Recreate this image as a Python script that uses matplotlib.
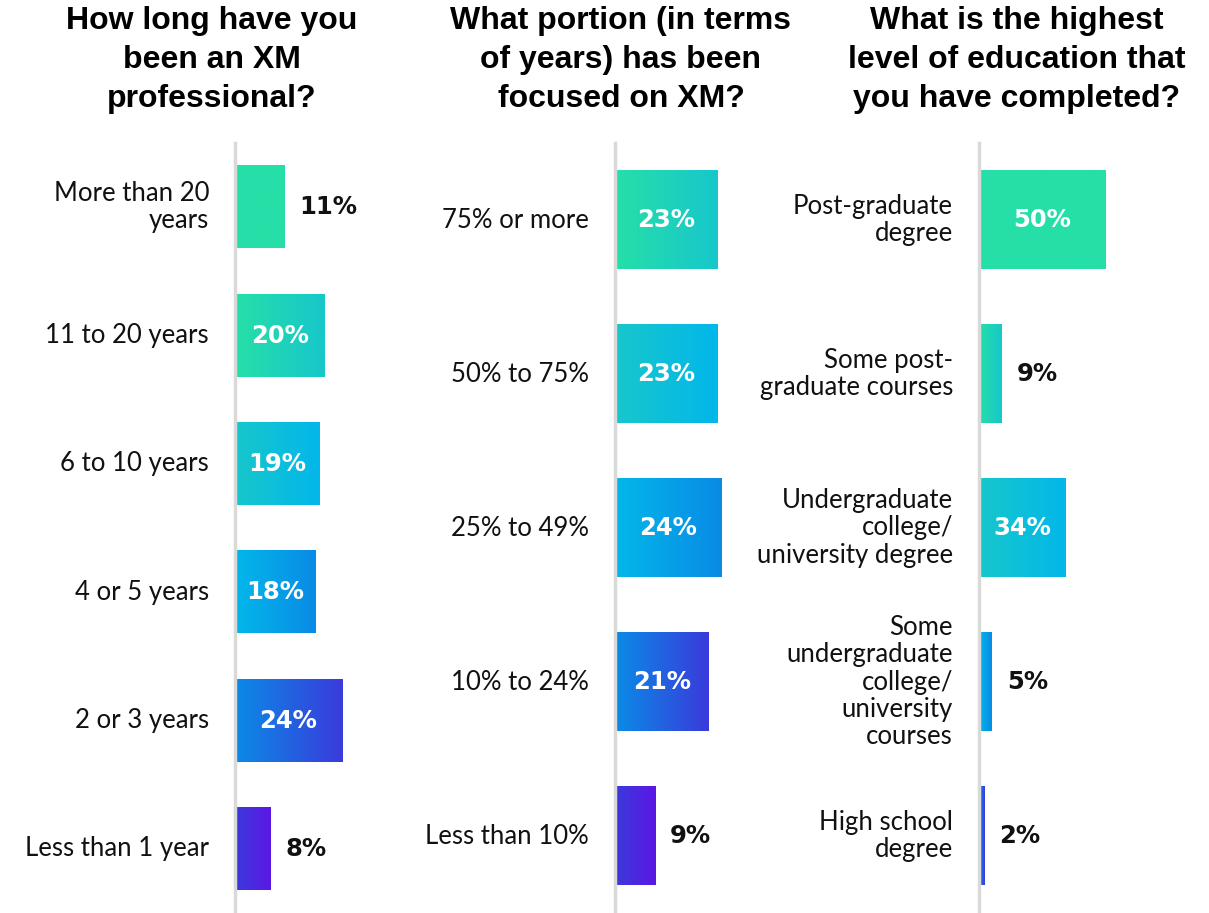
import matplotlib
matplotlib.use("Agg")
import matplotlib.pyplot as plt
import numpy as np
from matplotlib.colors import to_rgb

# data
titles = [
    "How long have you\nbeen an XM\nprofessional?",
    "What portion (in terms\nof years) has been\nfocused on XM?",
    "What is the highest\nlevel of education that\nyou have completed?",
]
tenure_labels = ["More than 20\nyears", "11 to 20 years", "6 to 10 years",
                 "4 or 5 years", "2 or 3 years", "Less than 1 year"]
tenure_values = [11, 20, 19, 18, 24, 8]

focus_labels = ["75% or more", "50% to 75%", "25% to 49%", "10% to 24%", "Less than 10%"]
focus_values = [23, 23, 24, 21, 9]

edu_labels = ["Post-graduate\ndegree", "Some post-\ngraduate courses",
              "Undergraduate\ncollege/\nuniversity degree",
              "Some\nundergraduate\ncollege/\nuniversity\ncourses",
              "High school\ndegree"]
edu_values = [50, 9, 34, 5, 2]

# gradient stops (green -> teal -> cyan -> blue -> indigo -> purple)
stops = ["#26dfa8", "#17c7cb", "#02b7ea", "#0a8be6", "#3a3bdb", "#5c17e5"]

panels = [
    dict(labels=tenure_labels, values=tenure_values,
         grad=[(0, 0), (0, 1), (1, 2), (2, 3), (3, 4), (4, 5)],
         left=235, scale=4.46, title_x=212),
    dict(labels=focus_labels, values=focus_values,
         grad=[(0, 1), (1, 2), (2, 3), (3, 4), (4, 5)],
         left=615, scale=4.45, title_x=621),
    dict(labels=edu_labels, values=edu_values,
         grad=[(0, 0), (0, 1), (1, 2), (2, 3), (3, 4)],
         left=979, scale=2.54, title_x=1017),
]

W, H = 1209, 913
fig = plt.figure(figsize=(W / 100, H / 100), dpi=100)
fig.patch.set_facecolor("white")

label_font = ["Lato", "DejaVu Sans"]
value_font = ["DejaVu Sans"]
title_font = ["Liberation Sans", "DejaVu Sans"]

ax_top = 143
ax_w = 200
for k, p in enumerate(panels):
    n = len(p["values"])
    ax = fig.add_axes([p["left"] / W, 0, ax_w / W, (H - ax_top) / H])
    bh = 0.64
    for i, (lab, v) in enumerate(zip(p["labels"], p["values"])):
        c0 = np.array(to_rgb(stops[p["grad"][i][0]]))
        c1 = np.array(to_rgb(stops[p["grad"][i][1]]))
        t = np.linspace(0, 1, 64)[:, None]
        img = (c0 * (1 - t) + c1 * t)[None, :, :]
        ax.imshow(img, extent=[0, v, i + bh / 2, i - bh / 2], aspect="auto",
                  interpolation="bilinear", zorder=2)
        bar_px = v * p["scale"]
        if bar_px > 60:
            ax.text(v / 2, i, f"{v}%", ha="center", va="center", color="white",
                    fontsize=17.5, fontweight="bold", family=value_font, zorder=3)
        else:
            ax.text(v + 15 / p["scale"], i, f"{v}%", ha="left", va="center",
                    color="#111111", fontsize=17.5, fontweight="bold",
                    family=value_font, zorder=3)
        ax.text(-26 / p["scale"], i, lab, ha="right", va="center",
                multialignment="right", color="#111111", fontsize=18.5,
                family=label_font, linespacing=1.12)
    ax.set_xlim(0, ax_w / p["scale"])
    ax.set_ylim(n - 0.5, -0.5)
    for s in ["top", "right", "bottom"]:
        ax.spines[s].set_visible(False)
    ax.spines["left"].set_color("#d9d9d9")
    ax.spines["left"].set_linewidth(2.5)
    ax.set_xticks([])
    ax.set_yticks([])
    ax.patch.set_alpha(0)

    fig.text(p["title_x"] / W, 1 - 60 / H, titles[k],
             ha="center", va="center", fontsize=23, fontweight="bold",
             family=title_font, linespacing=1.38, color="#000000")

fig.savefig("out.png", dpi=100, facecolor="white")
